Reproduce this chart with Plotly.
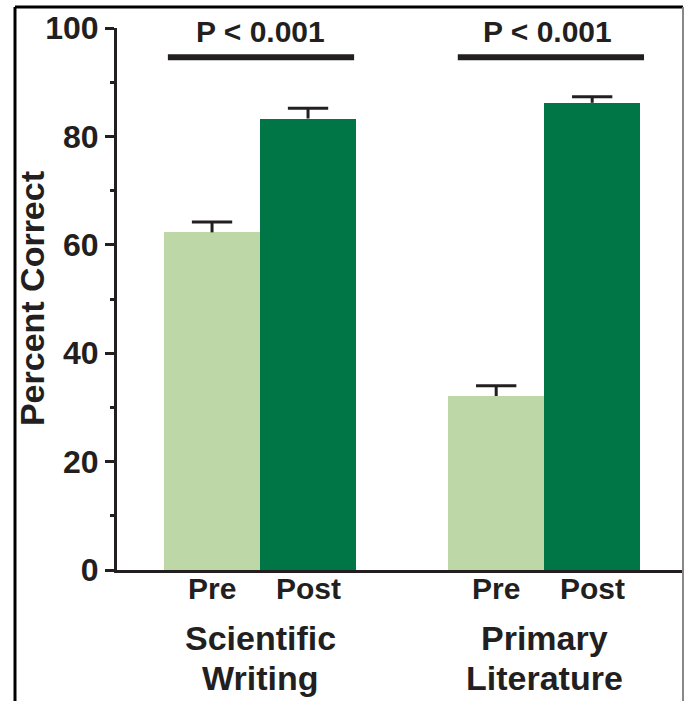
import plotly.graph_objects as go

# Data
groups = ["Scientific<br>Writing", "Primary<br>Literature"]
group_pos = [0.0, 2.96]
phases = ["Pre", "Post"]
pre_values = [62.3, 32.1]
post_values = [83.3, 86.2]
pre_err = [1.9, 1.9]
post_err = [1.9, 1.1]
p_labels = ["P < 0.001", "P < 0.001"]
bracket_level = 94.6
bracket_shift = [0.01, 0.07]
y_ticks = [0, 20, 40, 60, 80, 100]

LIGHT = "#bdd7a7"
DARK = "#007647"
INK = "#231f20"
FONT = "Liberation Sans, Arial, sans-serif"
CAP_HALF = 0.21

fig = go.Figure()

pre_x = [g - 0.5 for g in group_pos]
post_x = [g + 0.5 for g in group_pos]

fig.add_trace(go.Bar(
    x=pre_x, y=pre_values, width=1.0,
    marker=dict(color=LIGHT, line=dict(width=0)),
    name="Pre", showlegend=False,
))
fig.add_trace(go.Bar(
    x=post_x, y=post_values, width=1.0,
    marker=dict(color=DARK, line=dict(width=0)),
    name="Post", showlegend=False,
))

# upper-only error bars: stem from bar top plus a cap
ex, ey = [], []
for xs, vals, errs in [(pre_x, pre_values, pre_err), (post_x, post_values, post_err)]:
    for x, v, e in zip(xs, vals, errs):
        ex += [x, x, None, x - CAP_HALF, x + CAP_HALF, None]
        ey += [v, v + e, None, v + e, v + e, None]
fig.add_trace(go.Scatter(x=ex, y=ey, mode="lines", line=dict(color=INK, width=3),
                         hoverinfo="skip", showlegend=False))

# significance bars and labels
for g, s, lab in zip(group_pos, bracket_shift, p_labels):
    fig.add_shape(type="line", xref="x", yref="y",
                  x0=g + s - 0.97, x1=g + s + 0.97, y0=bracket_level, y1=bracket_level,
                  line=dict(color=INK, width=6))
    fig.add_annotation(x=g + s / 2, y=0.993, xref="x", yref="paper", text=f"<b>{lab}</b>",
                       showarrow=False, xanchor="center", yanchor="middle",
                       font=dict(family=FONT, size=30, color=INK))

# Pre / Post labels under each bar
for xs, ph in [(pre_x, phases[0]), (post_x, phases[1])]:
    for x in xs:
        fig.add_annotation(x=x, y=-0.0335, xref="x", yref="paper", text=f"<b>{ph}</b>",
                           showarrow=False, xanchor="center", yanchor="middle",
                           font=dict(family=FONT, size=30, color=INK))

# group labels, one annotation per line
line_y = [-0.1255, -0.1993]
for g, name in zip(group_pos, groups):
    for yy, part in zip(line_y, name.split("<br>")):
        fig.add_annotation(x=g, y=yy, xref="x", yref="paper", text=f"<b>{part}</b>",
                           showarrow=False, xanchor="center", yanchor="middle",
                           font=dict(family=FONT, size=34, color=INK))

# y-axis title
fig.add_annotation(x=-0.150, y=0.5, xref="paper", yref="paper",
                   text="<b>Percent Correct</b>", textangle=-90, showarrow=False,
                   xanchor="center", yanchor="middle",
                   font=dict(family=FONT, size=34, color=INK))

# outer frame
fig.add_shape(type="line", xref="paper", yref="paper", x0=-0.1802, x1=-0.1802,
              y0=1.0387, y1=-0.27, line=dict(color="#000000", width=3))
fig.add_shape(type="line", xref="paper", yref="paper", x0=-0.1802, x1=1.0,
              y0=1.0387, y1=1.0387, line=dict(color="#000000", width=3))
fig.add_shape(type="line", xref="paper", yref="paper", x0=1.0, x1=1.0,
              y0=1.0387, y1=-0.27, line=dict(color="#888888", width=2))

fig.update_layout(
    width=688, height=701,
    margin=dict(l=117, r=5, t=28, b=131),
    paper_bgcolor="white", plot_bgcolor="white",
    bargap=0,
    font=dict(family=FONT, color=INK),
    xaxis=dict(
        range=[-1.49, 4.406], showgrid=False, zeroline=False,
        showline=True, linecolor=INK, linewidth=3,
        showticklabels=False, ticks="",
    ),
    yaxis=dict(
        range=[0, 100], showgrid=False, zeroline=False,
        showline=True, linecolor=INK, linewidth=3,
        tickmode="array", tickvals=y_ticks, ticktext=[f"<b>{v}</b>" for v in y_ticks],
        ticks="outside", ticklen=9, tickwidth=3, tickcolor=INK,
        tickfont=dict(family=FONT, size=32, color=INK),
        minor=dict(dtick=10, ticks="outside", ticklen=4, tickwidth=3, tickcolor=INK),
    ),
)

fig.write_html("out.html")
